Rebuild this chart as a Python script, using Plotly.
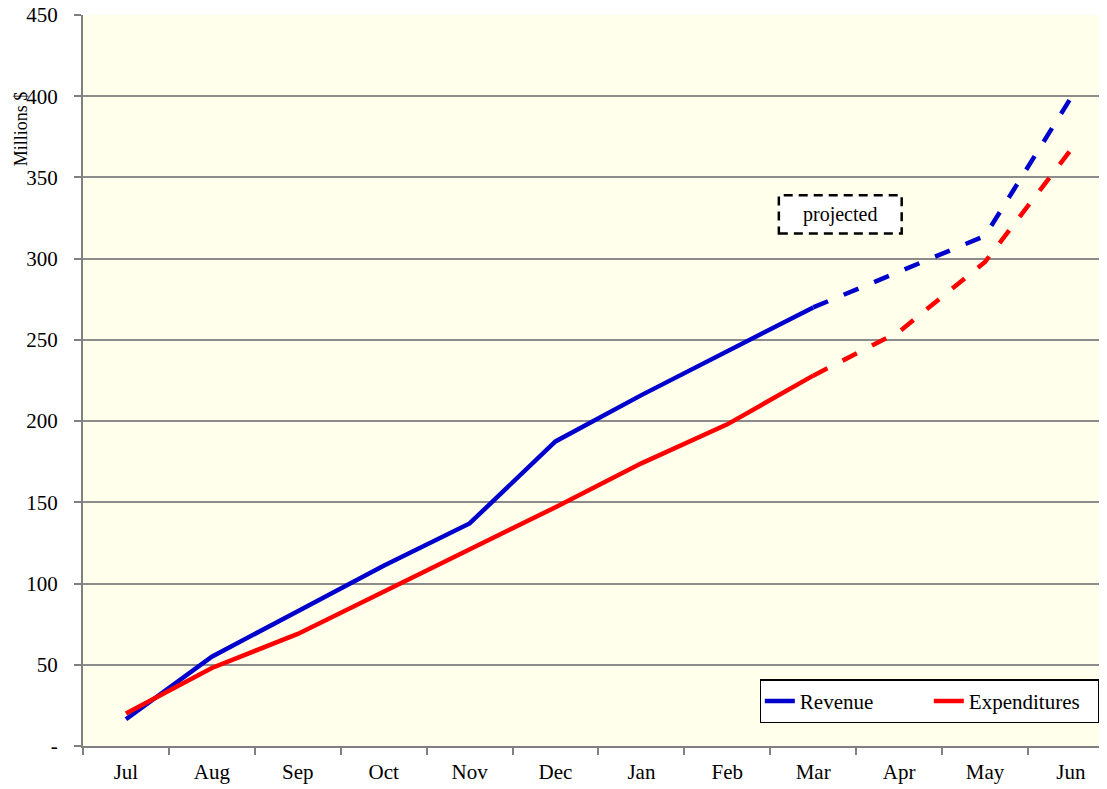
import plotly.graph_objects as go

months = ['Jul', 'Aug', 'Sep', 'Oct', 'Nov', 'Dec', 'Jan', 'Feb', 'Mar', 'Apr', 'May', 'Jun']
revenue = [16.5, 55, 83, 111, 137, 187.5, 216, 243, 270, 292, 314, 399]
expenditures = [20, 48, 69, 95, 121, 147, 174, 198, 228, 255, 298, 367]
last_actual = 8  # Mar: data after this point is projected
y_ticks = [0, 50, 100, 150, 200, 250, 300, 350, 400, 450]
y_tick_text = ['-', '50', '100', '150', '200', '250', '300', '350', '400', '450']

FONT = 'Liberation Serif, Times New Roman, serif'
BLUE = '#0000CC'
RED = '#FF0000'

fig = go.Figure()

for name, vals, color in [('Revenue', revenue, BLUE), ('Expenditures', expenditures, RED)]:
    # actual months, solid
    fig.add_trace(go.Scatter(
        x=months[:last_actual + 1], y=vals[:last_actual + 1],
        mode='lines', name=name, legendgroup=name,
        line=dict(color=color, width=4.5),
    ))
    # projected months, dashed
    fig.add_trace(go.Scatter(
        x=months[last_actual:], y=vals[last_actual:],
        mode='lines', name=name, legendgroup=name, showlegend=False,
        line=dict(color=color, width=4.5, dash='16px,17px'),
    ))

# "projected" label with a dashed frame
fig.add_shape(type='rect', xref='x', yref='y',
              x0=7.6, x1=9.03, y0=315.5, y1=339,
              line=dict(color='black', width=2.5, dash='9px,6px'),
              fillcolor='white', layer='above')
fig.add_annotation(x=8.31, y=327, xref='x', yref='y', text='projected',
                   showarrow=False, font=dict(family=FONT, size=20, color='black'))

# y axis title sits near the top of the axis
fig.add_annotation(x=-0.061, y=380, xref='paper', yref='y', text='Millions $',
                   xanchor='center', yanchor='middle',
                   textangle=-90, showarrow=False,
                   font=dict(family=FONT, size=18, color='black'))

# page body has an 8px margin, so the figure is 8px smaller and shifted
fig.update_layout(
    width=1099, height=781,
    margin=dict(l=75, r=0, t=7, b=43),
    paper_bgcolor='white',
    plot_bgcolor='#FFFFEB',
    font=dict(family=FONT, size=21, color='black'),
    showlegend=True,
    legend=dict(
        orientation='h', x=0.993, xanchor='right', y=0.031, yanchor='bottom',
        bgcolor='white', bordercolor='black', borderwidth=1.5,
        font=dict(family=FONT, size=21), entrywidth=124,
    ),
)

fig.update_xaxes(
    type='category', range=[-0.5, 11.42], automargin=False,
    showgrid=False, showline=True, linecolor='#808080', linewidth=2,
    ticks='outside', ticklen=7, tickcolor='#808080', tickwidth=1.5,
    tickson='boundaries', ticklabelstandoff=6,
)
fig.update_yaxes(
    range=[0, 450], tickvals=y_ticks, ticktext=y_tick_text, automargin=False,
    showgrid=True, gridcolor='#8C8C8C', gridwidth=1.5,
    showline=True, linecolor='#808080', linewidth=2,
    ticks='outside', ticklen=7, tickcolor='#808080', tickwidth=1.5,
    zeroline=False, ticklabelstandoff=12, ticklabeloverflow='allow',
)

fig.write_html('out.html')
